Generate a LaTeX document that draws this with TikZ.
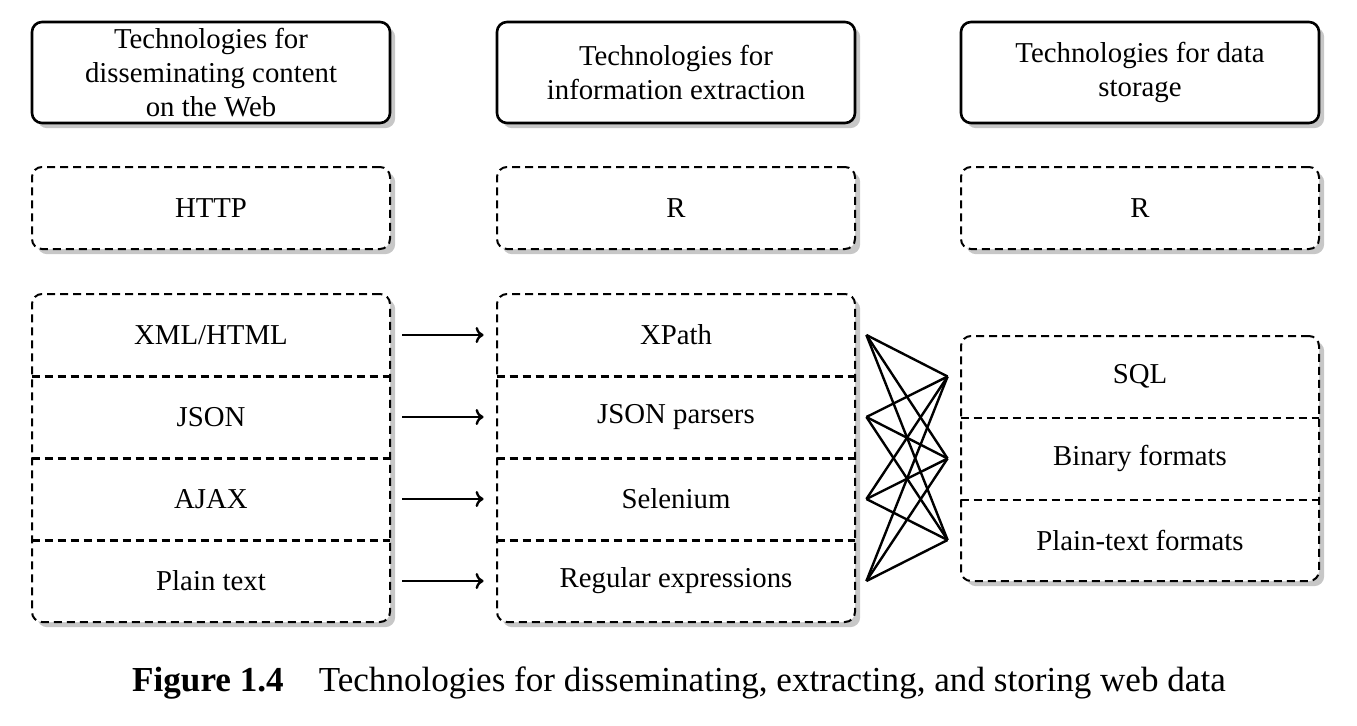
\documentclass[tikz,border=0pt]{standalone}
\usepackage{fontspec}
\setmainfont{Liberation Serif}
\usetikzlibrary{shadows,arrows.meta}
\pgfdeclarelayer{edgelayer}
\pgfdeclarelayer{nodelayer}
\pgfsetlayers{edgelayer,nodelayer,main}
\tikzstyle{none}=[inner sep=0pt]
\tikzstyle{boxshadow}=[drop shadow={shadow xshift=2.6pt, shadow yshift=-2.6pt, fill=black!22, opacity=1}]
\tikzstyle{head}=[draw=black, line width=1.3pt, rounded corners=5pt, fill=white, boxshadow, minimum width=179pt, minimum height=50.5pt, align=center, inner sep=0pt]
\tikzstyle{group}=[draw=black, line width=1pt, dash pattern=on 4pt off 2.5pt, rounded corners=5pt, fill=white, boxshadow, minimum width=179pt, inner sep=0pt]
\tikzstyle{cell}=[minimum width=179pt, minimum height=41pt, inner sep=0pt]
\tikzstyle{divider}=[draw=black, line width=1.1pt, dash pattern=on 4pt off 2.5pt]
\tikzstyle{edge}=[draw=black, line width=1.2pt]
\tikzstyle{arrow}=[edge, -{To[length=4pt, width=8pt]}, shorten <=6pt, shorten >=6.5pt]

\begin{document}
\begin{tikzpicture}[x=0.5pt, y=-0.5pt, every node/.style={font=\fontsize{14.4pt}{16.8pt}\selectfont}]
	\useasboundingbox (0, 0) rectangle (1357, 725);
	\begin{pgfonlayer}{nodelayer}
	% headers
	\node [style=head] (0) at (211, 72.5) {Technologies for\\disseminating content\\on the Web};
	\node [style=head] (1) at (676, 72.5) {Technologies for\\information extraction};
	\node [style=head] (2) at (1140, 72.5) {Technologies for data\\storage};
	% second row
	\node [style=group, minimum height=41pt] (3) at (211, 208) {HTTP};
	\node [style=group, minimum height=41pt] (4) at (676, 208) {R};
	\node [style=group, minimum height=41pt] (5) at (1140, 208) {R};
	% groups
	\node [style=group, minimum height=164pt] (6) at (211, 458) {};
	\node [style=group, minimum height=164pt] (7) at (676, 458) {};
	\node [style=group, minimum height=122.5pt] (8) at (1140, 458.5) {};
	\node [style=cell] (10) at (211, 335) {XML/HTML};
	\node [style=cell] (11) at (211, 417) {JSON};
	\node [style=cell] (12) at (211, 499) {AJAX};
	\node [style=cell] (13) at (211, 581) {Plain text};
	\node [style=cell] (20) at (676, 335) {XPath};
	\node [style=cell] (21) at (676, 417) {JSON parsers};
	\node [style=cell] (22) at (676, 499) {Selenium};
	\node [style=cell] (23) at (676, 581) {Regular expressions};
	\node [style=cell] (30) at (1140, 376.5) {SQL};
	\node [style=cell] (31) at (1140, 458.5) {Binary formats};
	\node [style=cell] (32) at (1140, 540) {Plain-text formats};
	\draw [style=divider] (10.south west) to (10.south east);
	\draw [style=divider] (11.south west) to (11.south east);
	\draw [style=divider] (12.south west) to (12.south east);
	\draw [style=divider] (20.south west) to (20.south east);
	\draw [style=divider] (21.south west) to (21.south east);
	\draw [style=divider] (22.south west) to (22.south east);
	\draw [style=divider] (30.south west) to (30.south east);
	\draw [style=divider] (31.south west) to (31.south east);
	% caption
	\node [style=none, font=\fontsize{17.55pt}{20pt}\selectfont] (40) at (679, 683) {\textbf{Figure 1.4}\quad Technologies for disseminating, extracting, and storing web data};
	\end{pgfonlayer}
	\begin{pgfonlayer}{edgelayer}
	\draw [style=arrow] (10.east) to (20.west);
	\draw [style=arrow] (11.east) to (21.west);
	\draw [style=arrow] (12.east) to (22.west);
	\draw [style=arrow] (13.east) to (23.west);
	\foreach \l in {20, 21, 22, 23} {
		\coordinate (a\l) at ([xshift=5.5pt]\l.east);
	}
	\foreach \r in {30, 31, 32} {
		\coordinate (b\r) at ([xshift=-6.5pt]\r.west);
	}
	\foreach \l in {20, 21, 22, 23} {
		\foreach \r in {30, 31, 32} {
			\draw [style=edge, line join=round] (a\l) to (b\r);
		}
	}
	\end{pgfonlayer}
\end{tikzpicture}
\end{document}
